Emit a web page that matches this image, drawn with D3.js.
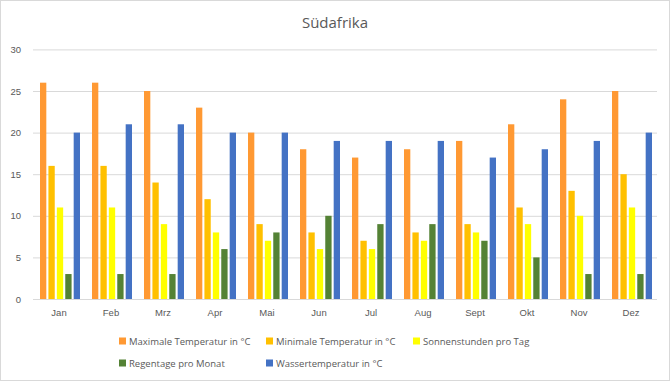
<!DOCTYPE html>
<html><head><meta charset="utf-8">
<script src="https://cdn.jsdelivr.net/npm/d3@7"></script>
<style>body{margin:0;background:#fff;}svg{display:block;font-family:"Open Sans",sans-serif;}</style>
</head><body><svg id="c" width="670" height="381"></svg>
<script>
const months = ["Jan","Feb","Mrz","Apr","Mai","Jun","Jul","Aug","Sept","Okt","Nov","Dez"];
const maxTemp = [26,26,25,23,20,18,17,18,19,21,24,25];
const minTemp = [16,16,14,12,9,8,7,8,9,11,13,15];
const sun = [11,11,9,8,7,6,6,7,8,9,10,11];
const rain = [3,3,3,6,8,10,9,9,7,5,3,3];
const water = [20,21,21,20,20,19,19,19,17,18,19,20];
const seriesNames = ["Maximale Temperatur in °C","Minimale Temperatur in °C","Sonnenstunden pro Tag","Regentage pro Monat","Wassertemperatur in °C"];
const colors = ["#FF9933","#FFC000","#FFFF00","#548235","#4472C4"];
const yTicks = [0,5,10,15,20,25,30];
const series = [maxTemp,minTemp,sun,rain,water];

const svg = d3.select("#c");
svg.append("rect").attr("x",0.5).attr("y",0.5).attr("width",669).attr("height",380).attr("fill","#fff").attr("stroke","#d9d9d9");
svg.append("text").attr("x",335).attr("y",28).attr("text-anchor","middle").attr("font-size",15).attr("fill","#595959").text("Südafrika");

const x = d3.scaleBand().domain(months).range([33,657]).paddingInner(0).paddingOuter(0);
const xs = d3.scaleBand().domain(d3.range(5)).range([7,47]).paddingInner(0.25).paddingOuter(0);
const y = d3.scaleLinear().domain([0,30]).range([299,49.4]);

const yAxis = d3.axisLeft(y).tickValues(yTicks).tickSize(-(657-33)).tickPadding(10);
const gy = svg.append("g").attr("transform","translate(33,0)").call(yAxis);
gy.select(".domain").remove();
gy.selectAll(".tick line").attr("stroke","#d9d9d9");
gy.selectAll(".tick text").attr("fill","#595959").attr("font-size",9.5).attr("x",-12);

const g = svg.append("g");
months.forEach((m,i)=>{
  series.forEach((s,k)=>{
    g.append("rect").attr("x",x(m)+xs(k)).attr("width",xs.bandwidth())
      .attr("y",y(s[i])).attr("height",y(0)-y(s[i])).attr("fill",colors[k]);
  });
});
svg.append("line").attr("x1",33).attr("x2",657).attr("y1",299.5).attr("y2",299.5).attr("stroke","#d9d9d9");

const xAxis = d3.axisBottom(x).tickSize(0).tickPadding(10);
const gx = svg.append("g").attr("transform","translate(0,299)").call(xAxis);
gx.select(".domain").remove();
gx.selectAll(".tick text").attr("fill","#595959").attr("font-size",9.5);

const legendPos = [[119,341],[266,341],[413,341],[119,363],[266,363]];
seriesNames.forEach((n,k)=>{
  const [lx,ly] = legendPos[k];
  svg.append("rect").attr("x",lx).attr("y",ly-3.5).attr("width",7).attr("height",7).attr("fill",colors[k]);
  svg.append("text").attr("x",lx+10).attr("y",ly+3.5).attr("font-size",9.5).attr("fill","#595959").text(n);
});
</script></body></html>
